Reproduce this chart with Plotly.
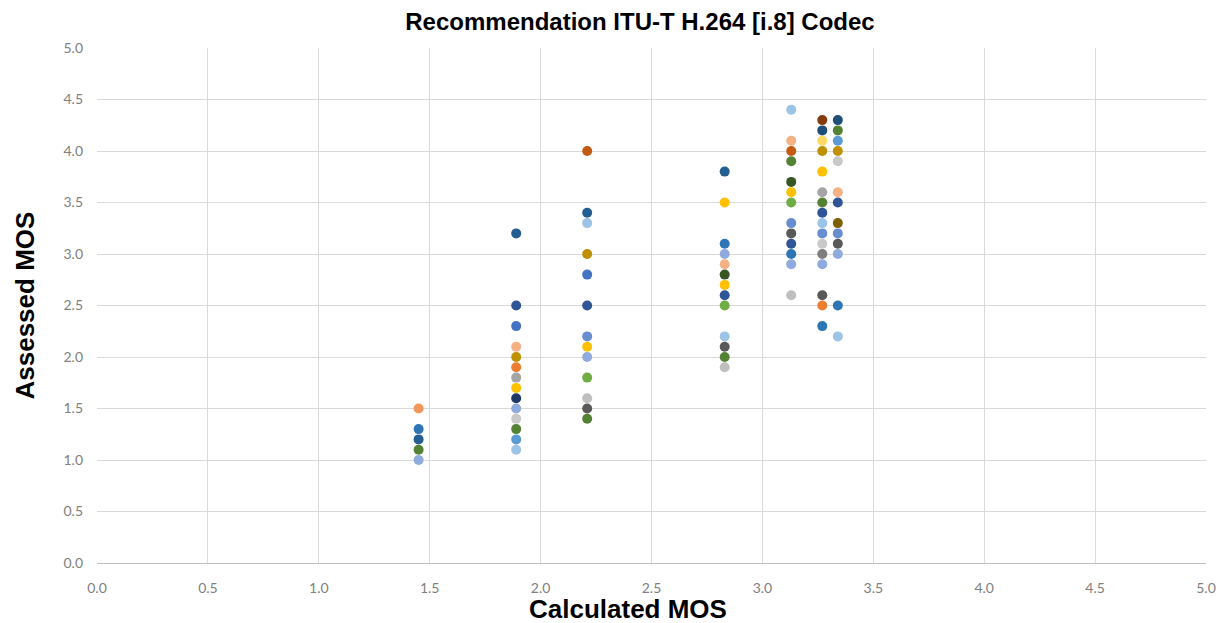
import plotly.graph_objects as go

# Calculated MOS columns
calc_mos = [1.45, 1.89, 2.21, 2.83, 3.13, 3.27, 3.34]

# Assessed MOS values per column
assessed_145 = [1.5, 1.3, 1.2, 1.1, 1.0]
assessed_189 = [3.2, 2.5, 2.3, 2.1, 2.0, 1.9, 1.8, 1.7, 1.6, 1.5, 1.4, 1.3, 1.2, 1.1]
assessed_221 = [4.0, 3.4, 3.3, 3.0, 2.8, 2.5, 2.2, 2.1, 2.0, 1.8, 1.6, 1.5, 1.4]
assessed_283 = [3.8, 3.5, 3.1, 3.0, 2.9, 2.8, 2.7, 2.6, 2.5, 2.2, 2.1, 2.0, 1.9]
assessed_313 = [4.4, 4.1, 4.0, 3.9, 3.7, 3.6, 3.5, 3.3, 3.2, 3.1, 3.0, 2.9, 2.6]
assessed_327 = [4.3, 4.2, 4.1, 4.0, 3.8, 3.6, 3.5, 3.4, 3.3, 3.2, 3.1, 3.0, 2.9, 2.6, 2.5, 2.3]
assessed_334 = [4.3, 4.2, 4.1, 4.0, 3.9, 3.6, 3.5, 3.3, 3.2, 3.1, 3.0, 2.5, 2.2]

assessed = [assessed_145, assessed_189, assessed_221, assessed_283,
            assessed_313, assessed_327, assessed_334]

tick_vals = [0.0, 0.5, 1.0, 1.5, 2.0, 2.5, 3.0, 3.5, 4.0, 4.5, 5.0]
tick_text = ["0.0", "0.5", "1.0", "1.5", "2.0", "2.5", "3.0", "3.5", "4.0", "4.5", "5.0"]

title_text = "Recommendation ITU-T H.264 [i.8] Codec"
x_title = "Calculated MOS"
y_title = "Assessed MOS"

# marker colours (style) per column, matching the order above
colors = [
    ["#F1975A", "#2E75B6", "#255E91", "#548235", "#8FAADC"],
    ["#255E91", "#2F5597", "#4472C4", "#F4B183", "#BF9000", "#ED7D31", "#A5A5A5",
     "#FFC000", "#203864", "#8FAADC", "#C9C9C9", "#548235", "#5B9BD5", "#9DC3E6"],
    ["#C55A11", "#255E91", "#9DC3E6", "#BF9000", "#4472C4", "#2F5597", "#698ED0",
     "#FFC000", "#8FAADC", "#70AD47", "#BFBFBF", "#595959", "#548235"],
    ["#255E91", "#FFC000", "#2E75B6", "#8FAADC", "#F4B183", "#375623", "#FFC000",
     "#2F5597", "#70AD47", "#9DC3E6", "#595959", "#548235", "#BFBFBF"],
    ["#9DC3E6", "#F4B183", "#C55A11", "#548235", "#375623", "#FFC000", "#70AD47",
     "#698ED0", "#595959", "#2F5597", "#2E75B6", "#8FAADC", "#BFBFBF"],
    ["#843C0C", "#1F4E79", "#FFD966", "#BF9000", "#FFC000", "#A5A5A5", "#548235",
     "#2F5597", "#9DC3E6", "#698ED0", "#C9C9C9", "#7F7F7F", "#8FAADC", "#595959",
     "#ED7D31", "#2E75B6"],
    ["#1F4E79", "#548235", "#5B9BD5", "#BF9000", "#C9C9C9", "#F4B183", "#2F5597",
     "#7F6000", "#698ED0", "#595959", "#8FAADC", "#2E75B6", "#9DC3E6"],
]

fig = go.Figure()
for xc, ys, cs in zip(calc_mos, assessed, colors):
    fig.add_trace(go.Scatter(
        x=[xc] * len(ys), y=ys, mode="markers",
        marker=dict(size=10, color=cs, line=dict(width=0)),
        showlegend=False, cliponaxis=False,
    ))

bold_font = "Liberation Sans, Arial"

fig.update_layout(
    width=1226, height=623,
    margin=dict(l=97, r=20, t=48, b=60),
    paper_bgcolor="white", plot_bgcolor="white",
    title=dict(text="<b>" + title_text + "</b>",
               x=0.522, xref="container", y=0.966, yref="container",
               xanchor="center", yanchor="middle",
               font=dict(family=bold_font, size=24, color="black")),
    font=dict(family="Lato, Open Sans", color="#7F7F7F"),
    annotations=[
        dict(text="<b>" + x_title + "</b>", xref="paper", yref="paper",
             x=0.479, y=0, xanchor="center", yanchor="middle", yshift=-46,
             showarrow=False,
             font=dict(family=bold_font, size=26, color="black")),
        dict(text="<b>" + y_title + "</b>", xref="paper", yref="paper",
             x=0, y=0.5, xanchor="center", yanchor="middle", xshift=-73,
             textangle=-90, showarrow=False,
             font=dict(family=bold_font, size=26, color="black")),
    ],
)
fig.update_xaxes(
    range=[0, 5], tickvals=tick_vals, ticktext=tick_text,
    showgrid=True, gridcolor="#D9D9D9", gridwidth=1,
    showline=True, linecolor="#BFBFBF", linewidth=1,
    zeroline=False, ticks="", ticklabelstandoff=12,
    tickfont=dict(size=14, color="#808080"),
    automargin=False,
)
fig.update_yaxes(
    range=[0, 5], tickvals=tick_vals, ticktext=tick_text,
    showgrid=True, gridcolor="#D9D9D9", gridwidth=1,
    showline=False, zeroline=False, ticks="", ticklabelstandoff=13,
    tickfont=dict(size=14, color="#808080"),
    automargin=False,
)

fig.write_html(
    "out.html",
    config={"displayModeBar": False},
    post_script="document.body.style.margin='0';document.body.style.overflow='hidden';",
)
